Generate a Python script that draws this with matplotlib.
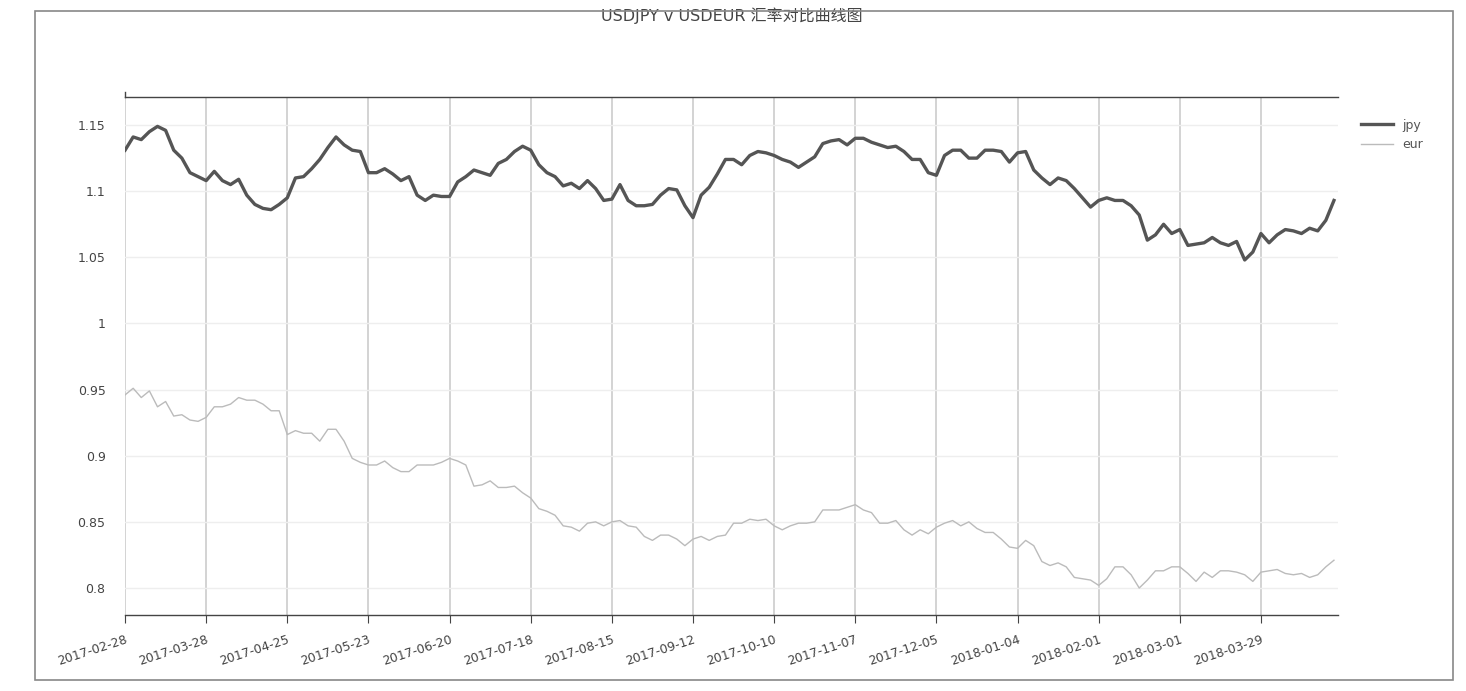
import matplotlib
matplotlib.use("Agg")
import matplotlib.pyplot as plt
from matplotlib.patches import Rectangle
import numpy as np

plt.rcParams["font.family"] = ["DejaVu Sans", "Noto Sans CJK SC"]

# ---- data (every 2nd trading day) ----
jpy = [1.131, 1.141, 1.139, 1.145, 1.149, 1.146, 1.131, 1.125, 1.114, 1.111,
       1.108, 1.115, 1.108, 1.105, 1.109, 1.097, 1.090, 1.087, 1.086, 1.090,
       1.095, 1.110, 1.111, 1.117, 1.124, 1.133, 1.141, 1.135, 1.131, 1.130,
       1.114, 1.114, 1.117, 1.113, 1.108, 1.111, 1.097, 1.093, 1.097, 1.096,
       1.096, 1.107, 1.111, 1.116, 1.114, 1.112, 1.121, 1.124, 1.130, 1.134,
       1.131, 1.120, 1.114, 1.111, 1.104, 1.106, 1.102, 1.108, 1.102, 1.093,
       1.094, 1.105, 1.093, 1.089, 1.089, 1.090, 1.097, 1.102, 1.101, 1.089,
       1.080, 1.097, 1.103, 1.113, 1.124, 1.124, 1.120, 1.127, 1.130, 1.129,
       1.127, 1.124, 1.122, 1.118, 1.122, 1.126, 1.136, 1.138, 1.139, 1.135,
       1.140, 1.140, 1.137, 1.135, 1.133, 1.134, 1.130, 1.124, 1.124, 1.114,
       1.112, 1.127, 1.131, 1.131, 1.125, 1.125, 1.131, 1.131, 1.130, 1.122,
       1.129, 1.130, 1.116, 1.110, 1.105, 1.110, 1.108, 1.102, 1.095, 1.088,
       1.093, 1.095, 1.093, 1.093, 1.089, 1.082, 1.063, 1.067, 1.075, 1.068,
       1.071, 1.059, 1.060, 1.061, 1.065, 1.061, 1.059, 1.062, 1.048, 1.054,
       1.068, 1.061, 1.067, 1.071, 1.070, 1.068, 1.072, 1.070, 1.078, 1.093]
eur = [0.946, 0.951, 0.944, 0.949, 0.937, 0.941, 0.930, 0.931, 0.927, 0.926,
       0.929, 0.937, 0.937, 0.939, 0.944, 0.942, 0.942, 0.939, 0.934, 0.934,
       0.916, 0.919, 0.917, 0.917, 0.911, 0.920, 0.920, 0.911, 0.898, 0.895,
       0.893, 0.893, 0.896, 0.891, 0.888, 0.888, 0.893, 0.893, 0.893, 0.895,
       0.898, 0.896, 0.893, 0.877, 0.878, 0.881, 0.876, 0.876, 0.877, 0.872,
       0.868, 0.860, 0.858, 0.855, 0.847, 0.846, 0.843, 0.849, 0.850, 0.847,
       0.850, 0.851, 0.847, 0.846, 0.839, 0.836, 0.840, 0.840, 0.837, 0.832,
       0.837, 0.839, 0.836, 0.839, 0.840, 0.849, 0.849, 0.852, 0.851, 0.852,
       0.847, 0.844, 0.847, 0.849, 0.849, 0.850, 0.859, 0.859, 0.859, 0.861,
       0.863, 0.859, 0.857, 0.849, 0.849, 0.851, 0.844, 0.840, 0.844, 0.841,
       0.846, 0.849, 0.851, 0.847, 0.850, 0.845, 0.842, 0.842, 0.837, 0.831,
       0.830, 0.836, 0.832, 0.820, 0.817, 0.819, 0.816, 0.808, 0.807, 0.806,
       0.802, 0.807, 0.816, 0.816, 0.810, 0.800, 0.806, 0.813, 0.813, 0.816,
       0.816, 0.811, 0.805, 0.812, 0.808, 0.813, 0.813, 0.812, 0.810, 0.805,
       0.812, 0.813, 0.814, 0.811, 0.810, 0.811, 0.808, 0.810, 0.816, 0.821]
x_labels = ["2017-02-28", "2017-03-28", "2017-04-25", "2017-05-23", "2017-06-20",
            "2017-07-18", "2017-08-15", "2017-09-12", "2017-10-10", "2017-11-07",
            "2017-12-05", "2018-01-04", "2018-02-01", "2018-03-01", "2018-03-29"]
y_ticks = [0.8, 0.85, 0.9, 0.95, 1.0, 1.05, 1.1, 1.15]
y_labels = ["0.8", "0.85", "0.9", "0.95", "1", "1.05", "1.1", "1.15"]

idx = np.arange(len(jpy)) * 2   # trading-day index

fig = plt.figure(figsize=(14.66, 6.91), dpi=100)
fig.patches.append(Rectangle((35 / 1466, 11 / 691), 1418 / 1466, 669 / 691,
                             transform=fig.transFigure, fill=False,
                             edgecolor="#888888", lw=1.2))
ax = fig.add_axes([0.0853, 0.110, 0.8274, 0.7496])

ax.plot(idx, jpy, color="#555555", lw=2.4, label="jpy", solid_joinstyle="round")
ax.plot(idx, eur, color="#bbbbbb", lw=1.0, label="eur")

ax.set_xlim(0, 299)
ax.set_ylim(0.7796, 1.1712)
ax.set_xticks(np.arange(len(x_labels)) * 20)
ax.set_xticklabels(x_labels, rotation=18, ha="right", fontsize=9, color="#444444",
                   rotation_mode="anchor")
ax.set_yticks(y_ticks)
ax.set_yticklabels(y_labels, fontsize=9, color="#444444")
ax.tick_params(axis="y", length=0, pad=14)
ax.tick_params(axis="x", length=6, color="#444444", direction="out", pad=7)

for s in ["left", "right"]:
    ax.spines[s].set_visible(False)
for s in ["top", "bottom"]:
    ax.spines[s].set_color("#444444")
    ax.spines[s].set_linewidth(1.0)
# small tick above top spine at origin
ax.plot([0, 0], [1.1712, 1.1752], color="#444444", lw=1, clip_on=False)

ax.grid(axis="x", color="#cccccc", lw=1.2)
ax.grid(axis="y", color="#eeeeee", lw=1.0)
ax.set_axisbelow(True)

ax.set_title("USDJPY v USDEUR 汇率对比曲线图", fontsize=11.5, color="#444444", pad=55)
ax.legend(loc="upper left", bbox_to_anchor=(1.01, 0.98), frameon=False,
          fontsize=9, handlelength=2.5, labelcolor="#555555")

fig.savefig("out.png", dpi=100)
